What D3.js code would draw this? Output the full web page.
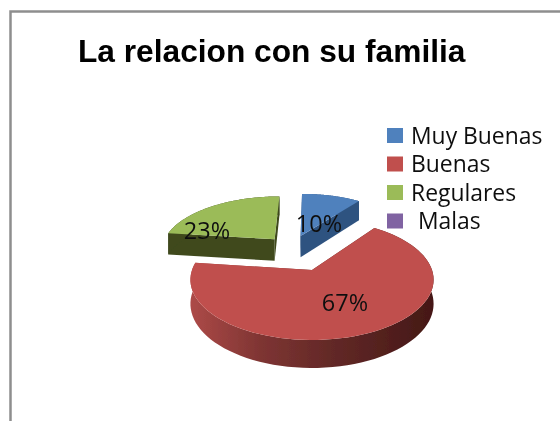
<!DOCTYPE html>
<html><head><meta charset="utf-8">
<style>html,body{margin:0;padding:0;background:#fff}svg{display:block}</style>
<script src="https://cdn.jsdelivr.net/npm/d3@7"></script></head><body>
<script>
const titleText = "La relacion con su familia";
const categories = ["Muy Buenas", "Buenas", "Regulares", "Malas"];
const values = [10, 67, 23, 0];
const colors = ["#4f81bd", "#c0504d", "#9bbb59", "#8064a2"];
const wallColors = ["#2f5380", "url(#redWall)", "#3f4a1e", "#4a3a60"];
const explodeX = [-0.105, 0, -0.34, 0];
const explodeY = [0.639, 0, 0.571, 0];

const W = 560, H = 421;
const root = d3.select("body").append("svg").attr("width", W).attr("height", H);

const defs = root.append("defs");
const grad = defs.append("linearGradient").attr("id", "redWall")
  .attr("gradientUnits", "userSpaceOnUse").attr("x1", 190).attr("x2", 433).attr("y1", 0).attr("y2", 0);
[[0, "#ad4a48"], [0.3, "#7d3432"], [0.6, "#612826"], [1, "#451816"]].forEach(s =>
  grad.append("stop").attr("offset", s[0]).attr("stop-color", s[1]));
defs.append("filter").attr("id", "soft").attr("filterUnits", "userSpaceOnUse")
  .attr("x", 0).attr("y", 0).attr("width", W).attr("height", H)
  .append("feGaussianBlur").attr("stdDeviation", 0.45);

const svg = root.append("g").attr("filter", "url(#soft)");

// frame
svg.append("path").attr("d", "M10.5,430V11.5H570").attr("fill", "none").attr("stroke", "#8e8e8e").attr("stroke-width", 2.5);

svg.append("text").attr("x", 78).attr("y", 62).text(titleText)
  .attr("font-family", "'Liberation Sans',Arial,sans-serif").attr("font-weight", 700)
  .attr("font-size", 31.7).attr("fill", "#000");

// perspective projection of the pie disc
const k = 0.161;
const sxScale = d3.scaleLinear().domain([-1, 1]).range([312 - 120, 312 + 120]);
const syScale = d3.scaleLinear().domain([-1, 1]).range([270 + 58.7, 270 - 58.7]);
const depth = 23.5;
function project(u, v, z) {
  const w = 1 + k * v;
  return [sxScale(u / w), syScale(v / w) + (z ? depth / w : 0)];
}
const pie = d3.pie().sort(null).value(d => d)(values);
const line = d3.line();

function arcPts(d, i, z) {
  const pts = [];
  const n = 80;
  for (let j = 0; j <= n; j++) {
    const t = d.startAngle + (d.endAngle - d.startAngle) * j / n;
    pts.push(project(Math.sin(t) + explodeX[i], Math.cos(t) + explodeY[i], z));
  }
  return pts;
}

const order = [2, 0, 1];
order.forEach(i => {
  const d = pie[i];
  if (d.endAngle === d.startAngle) return;
  const g = svg.append("g");
  const c0 = project(explodeX[i], explodeY[i], false);
  const c1 = project(explodeX[i], explodeY[i], true);
  const top = arcPts(d, i, false), bot = arcPts(d, i, true);
  // cut faces
  g.append("path").attr("d", line([c0, top[0], bot[0], c1]) + "Z").attr("fill", wallColors[i]);
  g.append("path").attr("d", line([c0, top[top.length - 1], bot[bot.length - 1], c1]) + "Z").attr("fill", wallColors[i]);
  // outer wall
  g.append("path").attr("d", line(top.concat(bot.slice().reverse())) + "Z").attr("fill", wallColors[i]);
  // top face
  g.append("path").attr("d", line([c0].concat(top)) + "Z").attr("fill", colors[i]);
});

const labelFont = "'Open Sans',sans-serif";
const labelX = [319, 345, 207];
const labelY = [232, 311, 239];
pie.forEach((d, i) => {
  if (!values[i]) return;
  svg.append("text").attr("x", labelX[i]).attr("y", labelY[i]).attr("text-anchor", "middle")
    .attr("font-family", labelFont).attr("font-size", 23.5).attr("fill", "#111")
    .text(values[i] + "%");
});

// legend
const legY = d3.scalePoint().domain(categories).range([135.5, 221]);
const textX = [411, 411, 411, 418];
const textDy = [8, 8, 8, 8];
categories.forEach((c, i) => {
  svg.append("rect").attr("x", 387).attr("y", legY(c) - 7.5).attr("width", 16).attr("height", 15).attr("fill", colors[i]);
  svg.append("text").attr("x", textX[i]).attr("y", legY(c) + textDy[i]).attr("font-family", labelFont)
    .attr("font-size", 22.9).attr("fill", "#111").text(c);
});
</script></body></html>
